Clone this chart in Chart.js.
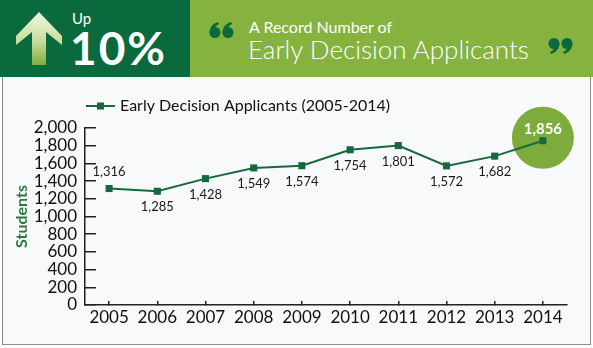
<!DOCTYPE html>
<html>
<head>
<meta charset="utf-8">
<script src="https://cdn.jsdelivr.net/npm/chart.js@4"></script>
<style>
    body { margin: 0; width: 593px; height: 348px; position: relative; overflow: hidden; background: #fff; font-family: Lato, sans-serif; }
    #header { position: absolute; left: 0; top: 0; width: 593px; height: 77px; background: #86b240; }
    #headerLeft { position: absolute; left: 0; top: 0; width: 190px; height: 77px; background: #0b6a3d; }
    .txt { position: absolute; color: #fff; white-space: nowrap; line-height: 1; }
    #up { left: 72px; top: 11px; font-size: 15px; }
    #pct { left: 70px; top: 25px; font-size: 46px; font-weight: bold; letter-spacing: 2px; }
    #sub { left: 249px; top: 19px; font-size: 16px; }
    #title { left: 248px; top: 36px; font-size: 26px; font-weight: 300; }
    .quote { position: absolute; }
    #q1 { left: 209px; top: 22px; }
    #q2 { left: 548px; top: 38px; transform: rotate(180deg); }
    #frame { position: absolute; left: 2px; top: 77px; width: 587px; height: 267px; border: 1px solid #8c8c8c; border-top: none; background: #f8f9fb; }
    #chart { position: absolute; left: 0; top: 0; }
</style>
</head>
<body>
<div id="header">
    <div id="headerLeft">
        <svg width="70" height="77" style="position:absolute;left:0;top:0">
            <defs>
                <linearGradient id="arrowGrad" x1="0" y1="0" x2="0" y2="1">
                    <stop offset="0" stop-color="#f2f6e4"/>
                    <stop offset="0.55" stop-color="#c9dd9c"/>
                    <stop offset="1" stop-color="#7fae3e"/>
                </linearGradient>
            </defs>
            <polygon points="39,12 62,36 62,45 46,32 46,65 32,65 32,32 16,45 16,36" fill="url(#arrowGrad)"/>
        </svg>
        <div class="txt" id="up">Up</div>
        <div class="txt" id="pct">10%</div>
    </div>
    <svg class="quote" id="q1" width="25" height="16">
        <g fill="#0b6a3d">
            <circle cx="6" cy="10.5" r="5.5"/>
            <path d="M0.6,11 C0.6,5 4,1.5 9,0 L10,2 C6.5,3.5 5,6.5 5.5,9 Z"/>
            <circle cx="19" cy="10.5" r="5.5"/>
            <path d="M13.6,11 C13.6,5 17,1.5 22,0 L23,2 C19.5,3.5 18,6.5 18.5,9 Z"/>
        </g>
    </svg>
    <div class="txt" id="sub">A Record Number of</div>
    <div class="txt" id="title">Early Decision Applicants</div>
    <svg class="quote" id="q2" width="25" height="16">
        <g fill="#0b6a3d">
            <circle cx="6" cy="10.5" r="5.5"/>
            <path d="M0.6,11 C0.6,5 4,1.5 9,0 L10,2 C6.5,3.5 5,6.5 5.5,9 Z"/>
            <circle cx="19" cy="10.5" r="5.5"/>
            <path d="M13.6,11 C13.6,5 17,1.5 22,0 L23,2 C19.5,3.5 18,6.5 18.5,9 Z"/>
        </g>
    </svg>
</div>
<div id="frame"></div>
<canvas id="chart" width="593" height="348"></canvas>

<script>
const years = ['2005', '2006', '2007', '2008', '2009', '2010', '2011', '2012', '2013', '2014'];
const applicants = [1316, 1285, 1428, 1549, 1574, 1754, 1801, 1572, 1682, 1856];
const yTickValues = [0, 200, 400, 600, 800, 1000, 1200, 1400, 1600, 1800, 2000];
const labelAbove = [true, false, false, false, false, false, false, false, false, true];

const lineColor = '#17683c';

// legend drawn by hand: short line with a square on it, like the original
const legendLine = {
    id: 'legendLine',
    afterDraw(chart) {
        const ctx = chart.ctx;
        const ds = chart.data.datasets[0];
        const x = chart.chartArea.left + 1;
        const y = 106;
        ctx.save();
        ctx.strokeStyle = ds.borderColor;
        ctx.lineWidth = 2;
        ctx.beginPath();
        ctx.moveTo(x, y);
        ctx.lineTo(x + 29, y);
        ctx.stroke();
        ctx.fillStyle = ds.borderColor;
        ctx.fillRect(x + 11, y - 3.5, 7, 7);
        ctx.font = '16px Lato';
        ctx.fillStyle = '#111';
        ctx.textBaseline = 'middle';
        ctx.fillText(ds.label, x + 34, y);
        ctx.restore();
    }
};

// green bubble behind the last point
const highlight = {
    id: 'highlight',
    beforeDatasetsDraw(chart) {
        const meta = chart.getDatasetMeta(0);
        const last = meta.data[meta.data.length - 1];
        const ctx = chart.ctx;
        ctx.save();
        ctx.fillStyle = '#7dab3c';
        ctx.beginPath();
        ctx.arc(last.x, last.y - 3, 31, 0, Math.PI * 2);
        ctx.fill();
        ctx.restore();
    }
};

const valueLabels = {
    id: 'valueLabels',
    afterDatasetsDraw(chart) {
        const meta = chart.getDatasetMeta(0);
        const ctx = chart.ctx;
        ctx.save();
        ctx.textAlign = 'center';
        ctx.textBaseline = 'middle';
        meta.data.forEach((pt, i) => {
            const text = applicants[i].toLocaleString('en-US');
            const isLast = i === meta.data.length - 1;
            if (isLast) {
                ctx.font = 'bold 15px Lato';
                ctx.fillStyle = '#fff';
                ctx.fillText(text, pt.x, pt.y - 12);
            } else {
                ctx.font = '13px Lato';
                ctx.fillStyle = '#1a1a1a';
                ctx.fillText(text, pt.x, labelAbove[i] ? pt.y - 17 : pt.y + 16);
            }
        });
        ctx.restore();
    }
};

new Chart(document.getElementById('chart'), {
    type: 'line',
    data: {
        labels: years,
        datasets: [{
            label: 'Early Decision Applicants (2005-2014)',
            data: applicants,
            borderColor: lineColor,
            backgroundColor: lineColor,
            borderWidth: 2,
            pointStyle: 'rect',
            pointRadius: 5,
            pointBackgroundColor: lineColor,
            pointBorderWidth: 0,
            tension: 0
        }]
    },
    options: {
        responsive: false,
        animation: false,
        layout: { padding: { left: 0, right: 26, top: 128, bottom: 0 } },
        plugins: {
            legend: { display: false },
            tooltip: { enabled: false }
        },
        scales: {
            x: {
                offset: true,
                afterFit(scale) { scale.height = 43; },
                grid: { drawOnChartArea: false, tickLength: -4, color: '#222', lineWidth: 1.5 },
                border: { color: '#222', width: 1.5 },
                ticks: { color: '#111', font: { family: 'Lato', size: 17 }, padding: 6, maxRotation: 0, autoSkip: false }
            },
            y: {
                min: 0,
                max: 2000,
                afterFit(scale) { scale.width = 85; },
                afterBuildTicks(scale) { scale.ticks = yTickValues.map(v => ({ value: v })); },
                grid: { drawOnChartArea: false, tickLength: -11, color: '#222', lineWidth: 1.5 },
                border: { color: '#222', width: 1.5 },
                ticks: {
                    color: '#111',
                    font: { family: 'Lato', size: 17 },
                    padding: 19,
                    autoSkip: false,
                    callback: v => v.toLocaleString('en-US')
                },
                title: {
                    display: true,
                    text: 'Students',
                    color: '#2c7a3e',
                    font: { family: 'Lato', size: 16, weight: 'bold' },
                    padding: { top: 12, bottom: 0 }
                }
            }
        }
    },
    plugins: [highlight, valueLabels, legendLine]
});
</script>
</body>
</html>
